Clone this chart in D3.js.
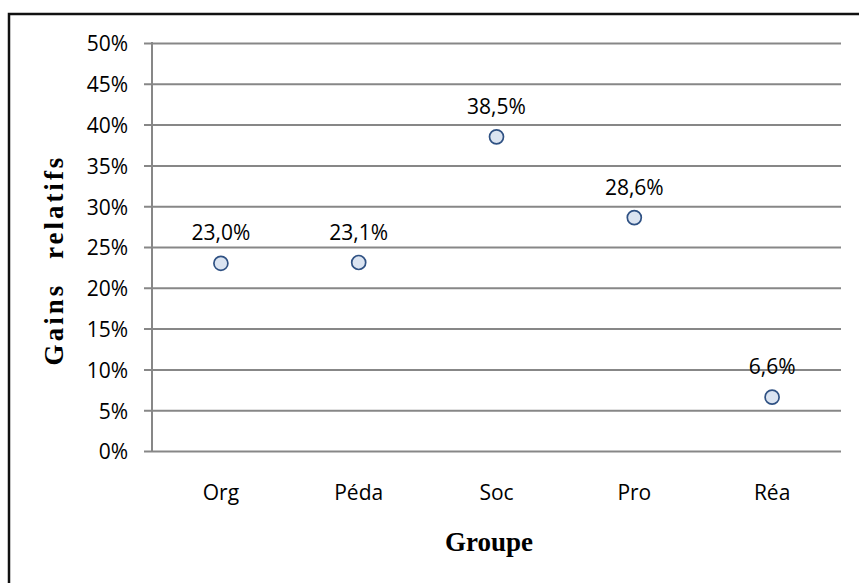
<!DOCTYPE html>
<html>
<head>
	<meta http-equiv="Content-Type" content="text/html; charset=utf-8"/>
	<title>Gains relatifs</title>
	<style>
		body { margin: 0; background: #fff; }
		.tick text, .val { font-family: "Open Sans", sans-serif; font-size: 21px; fill: #000; }
		.titre { font-family: "Liberation Serif", "Times New Roman", serif; font-weight: bold; font-size: 27px; fill: #000; }
	</style>
</head>
<body>
	<svg width="859" height="583" id="viz"></svg>

	<script src="https://d3js.org/d3.v7.min.js"></script>
	<script>
		// Données
		var groupes = ["Org", "Péda", "Soc", "Pro", "Réa"];
		var gains = [23.0, 23.1, 38.5, 28.6, 6.6];
		var ticks_y = [0, 5, 10, 15, 20, 25, 30, 35, 40, 45, 50];

		var fr = d3.formatLocale({decimal: ",", thousands: " ", grouping: [3], currency: ["", " €"]});
		var fmt = fr.format(".1f");

		var svg = d3.select("#viz");

		// cadre (seuls les bords gauche et haut sont visibles)
		svg.append("rect")
			.attr("x", 9).attr("y", 14)
			.attr("width", 900).attr("height", 620)
			.attr("fill", "none")
			.attr("stroke", "#111")
			.attr("stroke-width", 2.5);

		const m_left = 152, m_right = 841, m_top = 43, m_bottom = 451;

		const x = d3.scaleBand().domain(groupes).range([m_left, m_right]);
		const y = d3.scaleLinear().domain([0, 50]).range([m_bottom, m_top]);

		// grille + axe y
		const gy = svg.append("g")
			.attr("transform", `translate(${m_left},0)`)
			.call(d3.axisLeft(y).tickValues(ticks_y).tickSize(8).tickFormat(d => d + "%"));
		gy.select(".domain").remove();
		gy.selectAll(".tick line").attr("stroke", "#878787").attr("stroke-width", 2)
			.attr("x1", -8).attr("x2", m_right - m_left);
		gy.selectAll(".tick text").attr("x", -24).attr("dy", "0.38em");

		svg.append("line")
			.attr("x1", m_left).attr("x2", m_left)
			.attr("y1", m_top - 1).attr("y2", m_bottom)
			.attr("stroke", "#878787").attr("stroke-width", 2);

		// axe x (libellés seulement)
		const gx = svg.append("g")
			.attr("transform", `translate(0,${m_bottom})`)
			.call(d3.axisBottom(x).tickSize(0).tickPadding(0));
		gx.select(".domain").remove();
		gx.selectAll(".tick text").attr("y", 49).attr("dy", 0);

		// points
		var pts = groupes.map((g, i) => ({groupe: g, valeur: gains[i]}));

		svg.selectAll("circle.pt")
			.data(pts)
			.join("circle")
			.attr("class", "pt")
			.attr("cx", d => x(d.groupe) + x.bandwidth() / 2)
			.attr("cy", d => y(d.valeur))
			.attr("r", 7)
			.attr("fill", "#dbe4f1")
			.attr("stroke", "#2f5183")
			.attr("stroke-width", 1.7);

		svg.selectAll("text.val")
			.data(pts)
			.join("text")
			.attr("class", "val")
			.attr("x", d => x(d.groupe) + x.bandwidth() / 2)
			.attr("y", d => y(d.valeur) - 23)
			.attr("text-anchor", "middle")
			.text(d => fmt(d.valeur) + "%");

		// titres des axes
		svg.append("text")
			.attr("class", "titre")
			.attr("x", 489).attr("y", 551)
			.attr("text-anchor", "middle")
			.text("Groupe");

		svg.append("text")
			.attr("class", "titre")
			.attr("transform", "translate(63,260) rotate(-90)")
			.attr("text-anchor", "middle")
			.style("letter-spacing", "3px")
			.style("word-spacing", "14px")
			.text("Gains relatifs");
	</script>
</body>
</html>
